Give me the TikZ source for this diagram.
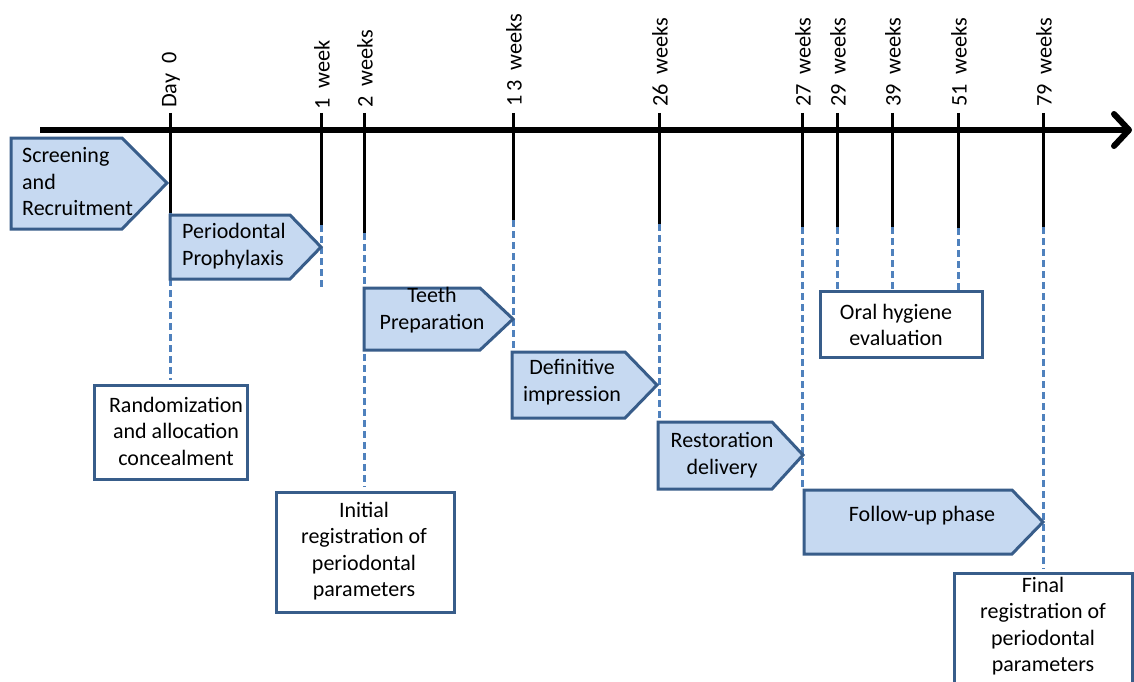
\documentclass[tikz,border=0pt]{standalone}
\usepackage{fontspec}
\setmainfont{Carlito}
\usetikzlibrary{arrows.meta}
\definecolor{phasefill}{RGB}{198,217,241}
\definecolor{phaseline}{RGB}{56,93,138}
\definecolor{dashblue}{RGB}{79,129,189}
\begin{document}
\begin{tikzpicture}[x=1pt,y=-1pt,
  phasebox/.style={draw=phaseline, fill=phasefill, line width=3pt, line join=miter},
  notebox/.style={draw=phaseline, fill=white, line width=3pt},
  txt/.style={font=\fontsize{22}{26.5}\selectfont, align=center, inner sep=0pt},
  txtl/.style={font=\fontsize{22}{26.5}\selectfont, align=left, inner sep=0pt, anchor=west},
  ticklabel/.style={font=\fontsize{22.3}{27}\selectfont, rotate=90, anchor=west, inner sep=0pt},
  tickline/.style={draw=black, line width=3pt},
  dashline/.style={draw=dashblue, line width=3pt, dash pattern=on 7pt off 4pt}]
\useasboundingbox (0,0) rectangle (1134,682);
\fill[white] (0,0) rectangle (1134,682);

% tick coordinates: top, end of black part, end of dashed part
\coordinate (d0t) at (170,113);  \coordinate (d0b) at (170,213);  \coordinate (d0e) at (170,380);
\coordinate (w1t) at (321,113);  \coordinate (w1b) at (321,225);  \coordinate (w1e) at (321,287);
\coordinate (w2t) at (364,113);  \coordinate (w2b) at (364,233);  \coordinate (w2e) at (364,487);
\coordinate (w13t) at (513,113); \coordinate (w13b) at (513,220); \coordinate (w13e) at (513,418);
\coordinate (w26t) at (659,113); \coordinate (w26b) at (659,224); \coordinate (w26e) at (659,421);
\coordinate (w27t) at (802,113); \coordinate (w27b) at (802,227); \coordinate (w27e) at (802,490);
\coordinate (w29t) at (837,113); \coordinate (w29b) at (837,227); \coordinate (w29e) at (837,291);
\coordinate (w39t) at (892,113); \coordinate (w39b) at (892,227); \coordinate (w39e) at (892,291);
\coordinate (w51t) at (958,113); \coordinate (w51b) at (958,228); \coordinate (w51e) at (958,291);
\coordinate (w79t) at (1043,113);\coordinate (w79b) at (1043,227);\coordinate (w79e) at (1043,569);

% dashed continuations
\foreach \t in {d0,w1,w2,w13,w26,w27,w29,w39,w51,w79}
  \draw[dashline] (\t b) -- (\t e);

% axis
\coordinate (axL) at (40,130);
\coordinate (axR) at (1132,130);
\draw[line width=6pt, -{Straight Barb[length=15pt,width=32pt,line cap=round,line join=round]}] (axL) -- (axR);

% black ticks
\foreach \t in {d0,w1,w2,w13,w26,w27,w29,w39,w51,w79}
  \draw[tickline] (\t t) -- (\t b);

% tick labels
\node[ticklabel] (l0)  at (171,108)  {Day\ \ 0};
\node[ticklabel] (l1)  at (322,110)  {1\ \ week};
\node[ticklabel] (l2)  at (365,108)  {2\ \ weeks};
\node[ticklabel] (l13) at (514,107)  {1\,3\ \ weeks};
\node[ticklabel] (l26) at (660,107)  {26\ \ weeks};
\node[ticklabel] (l27) at (803,107)  {27\ \ weeks};
\node[ticklabel] (l29) at (838,107)  {29\ \ weeks};
\node[ticklabel] (l39) at (893,107)  {39\ \ weeks};
\node[ticklabel] (l51) at (959,107)  {51\ \ weeks};
\node[ticklabel] (l79) at (1044,107) {79\ \ weeks};

% phase arrows
\draw[phasebox] (11,138) -- (122,138) -- (167,183) -- (122,229) -- (11,229) -- cycle;
\node[txtl] (screen) at (22,182) {Screening\\and\\Recruitment};

\draw[phasebox] (170,215) -- (290,215) -- (321,247) -- (290,279) -- (170,279) -- cycle;
\node[txtl] (proph) at (182,246) {Periodontal\\Prophylaxis};

\draw[phasebox] (364,288) -- (480,288) -- (513,319) -- (480,350) -- (364,350) -- cycle;
\node[txt] (teeth) at (432,310) {Teeth\\Preparation};

\draw[phasebox] (512,352) -- (625,352) -- (657,385) -- (625,418) -- (512,418) -- cycle;
\node[txt] (impr) at (572,382) {Definitive\\impression};

\draw[phasebox] (658,422) -- (772,422) -- (803,455) -- (772,489) -- (658,489) -- cycle;
\node[txt] (restor) at (722,455) {Restoration\\delivery};

\draw[phasebox] (804,490) -- (1012,490) -- (1043,522) -- (1012,554) -- (804,554) -- cycle;
\node[txt] (follow) at (922,516) {Follow-up phase};

% note boxes
\draw[notebox] (94,385) rectangle (247,479);
\node[txt] (rand) at (176,431) {Randomization\\and allocation\\concealment};

\draw[notebox] (276,492) rectangle (454,612);
\node[txt] (initreg) at (364,551) {Initial\\registration of\\periodontal\\parameters};

\draw[notebox] (820,291) rectangle (982,357);
\node[txt] (oral) at (896,325) {Oral hygiene\\evaluation};

\draw[notebox] (954,690) -- (954,573) -- (1132,573) -- (1132,690);
\node[txt] (finalreg) at (1043,626) {Final\\registration of\\periodontal\\parameters};
\end{tikzpicture}
\end{document}
